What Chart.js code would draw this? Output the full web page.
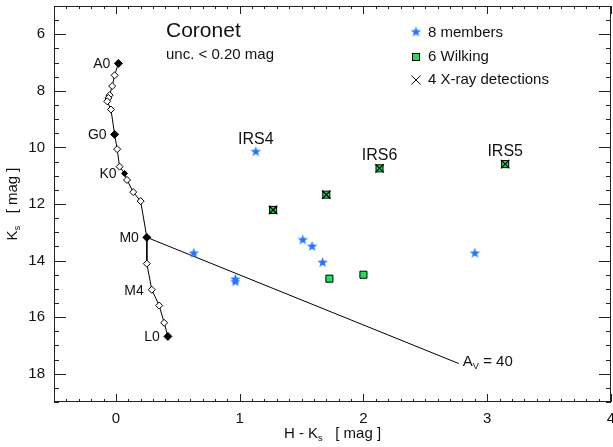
<!DOCTYPE html>
<html>
<head>
<meta charset="utf-8">
<script src="https://cdn.jsdelivr.net/npm/chart.js@4.4.0/dist/chart.umd.min.js"></script>
<style>
  html, body { margin: 0; padding: 0; background: #fff; overflow: hidden; }
  #wrap { width: 613px; height: 447px; }
</style>
</head>
<body>
<div id="wrap"><canvas id="cmd"></canvas></div>
<script>
// ---- datos ----
// secuencia principal (H-Ks, Ks) con tipos espectrales
const trackX = [0.02, -0.01, -0.03, -0.05, -0.06, -0.07, -0.04, -0.01, 0.01, 0.03, 0.07, 0.09, 0.14, 0.20, 0.25, 0.25, 0.29, 0.35, 0.39, 0.42]
const trackY = [7.03, 7.45, 7.83, 8.15, 8.25, 8.37, 8.66, 9.54, 10.06, 10.68, 10.92, 11.15, 11.58, 11.90, 13.18, 14.11, 15.03, 15.59, 16.20, 16.68]
const trackSpT = ['A0', '', '', '', '', '', '', 'G0', '', '', 'K0', '', '', '', 'M0', '', 'M4', '', '', 'L0']
const filledSpT = ['A0', 'G0', 'K0', 'M0', 'L0']

// vector de enrojecimiento A_V = 40
const avX = [0.25, 2.77]
const avY = [13.18, 17.64]

// 8 miembros
const memberX = [1.13, 0.63, 0.965, 0.965, 1.51, 1.585, 1.67, 2.90]
const memberY = [10.15, 13.74, 14.66, 14.75, 13.27, 13.50, 14.07, 13.74]

// 6 Wilking
const wilkX = [1.27, 1.70, 2.13, 3.145, 1.725, 2.00]
const wilkY = [12.21, 11.67, 10.74, 10.59, 14.64, 14.50]

// 4 detecciones en rayos X
const xrayX = [1.27, 1.70, 2.13, 3.145]
const xrayY = [12.21, 11.67, 10.74, 10.59]

// nombres de fuentes
const srcNames = ['IRS4', 'IRS6', 'IRS5']
const srcX = [1.13, 2.13, 3.145]
const srcY = [10.15, 10.74, 10.59]

// ticks
const xTicks = [0, 1, 2, 3, 4]
const yTicks = [6, 8, 10, 12, 14, 16, 18]

const FONT = "'Liberation Sans', Arial, Helvetica, sans-serif"
const BLUE = '#2476ff'
const GREEN = '#1fe05c'
const INK = '#111'

// ---- estrella rellena de 5 puntas como imagen ----
function hacerEstrella(r, color){
  const c = document.createElement('canvas')
  const s = Math.ceil(r * 2) + 2
  c.width = s
  c.height = s
  const g = c.getContext('2d')
  g.fillStyle = color
  g.beginPath()
  for (let i = 0; i < 10; i++){
    const rr = i % 2 === 0 ? r : r * 0.42
    const a = -Math.PI / 2 + i * Math.PI / 5
    g.lineTo(s / 2 + rr * Math.cos(a), s / 2 + rr * Math.sin(a))
  }
  g.closePath()
  g.fill()
  return c
}
const estrella = hacerEstrella(5.5, BLUE)

function pares(xs, ys){
  return xs.map((x, i) => ({x: x, y: ys[i]}))
}

// ---- texto con subindice ----
function textoSub(ctx, partes, x, y, size){
  // partes: [[texto, esSub], ...] ; x = inicio, y = linea base
  let cx = x
  partes.forEach(([t, sub]) => {
    ctx.font = (sub ? size * 0.62 : size) + 'px ' + FONT
    ctx.fillText(t, cx, sub ? y + size * 0.22 : y)
    cx += ctx.measureText(t).width
  })
  return cx - x
}
function anchoSub(ctx, partes, size){
  let w = 0
  partes.forEach(([t, sub]) => {
    ctx.font = (sub ? size * 0.62 : size) + 'px ' + FONT
    w += ctx.measureText(t).width
  })
  return w
}

// ---- plugin: marco, ticks hacia adentro, textos ----
const decoraciones = {
  id: 'decoraciones',
  afterDraw(chart){
    const ctx = chart.ctx
    const a = chart.chartArea
    const sx = chart.scales.x
    const sy = chart.scales.y
    ctx.save()
    ctx.strokeStyle = '#222'
    ctx.lineWidth = 1
    ctx.strokeRect(Math.round(a.left) + 0.5, Math.round(a.top) + 0.5, Math.round(a.right - a.left) - 1, Math.round(a.bottom - a.top) - 1)

    ctx.beginPath()
    // ticks eje x (abajo y arriba)
    for (let i = 0; i <= 45; i++){
      const v = sx.min + i * 0.1
      const mayor = Math.abs(v - Math.round(v)) < 1e-6
      const len = mayor ? 8 : 3
      const px = Math.round(sx.getPixelForValue(v)) + 0.5
      ctx.moveTo(px, a.bottom)
      ctx.lineTo(px, a.bottom - len)
      ctx.moveTo(px, a.top)
      ctx.lineTo(px, a.top + len)
    }
    // ticks eje y (izquierda y derecha)
    for (let i = 0; i <= 28; i++){
      const v = sy.min + i * 0.5
      const mayor = Math.abs(v / 2 - Math.round(v / 2)) < 1e-6
      const len = mayor ? 12 : 5
      const py = Math.round(sy.getPixelForValue(v)) + 0.5
      ctx.moveTo(a.left, py)
      ctx.lineTo(a.left + len, py)
      ctx.moveTo(a.right, py)
      ctx.lineTo(a.right - len, py)
    }
    ctx.stroke()

    ctx.fillStyle = INK
    // tipos espectrales
    ctx.font = '14px ' + FONT
    ctx.textAlign = 'right'
    ctx.textBaseline = 'middle'
    trackSpT.forEach((t, i) => {
      if (!t) return
      ctx.fillText(t, sx.getPixelForValue(trackX[i]) - 8, sy.getPixelForValue(trackY[i]) + 1)
    })

    // nombres IRS
    ctx.font = '16px ' + FONT
    ctx.textAlign = 'center'
    ctx.textBaseline = 'alphabetic'
    srcNames.forEach((n, i) => {
      ctx.fillText(n, sx.getPixelForValue(srcX[i]), sy.getPixelForValue(srcY[i]) - 8)
    })

    // etiqueta A_V = 40
    ctx.textAlign = 'left'
    const ex = sx.getPixelForValue(avX[1])
    const ey = sy.getPixelForValue(avY[1])
    textoSub(ctx, [['A', false], ['V', true], [' = 40', false]], ex + 4, ey + 2, 15)

    // titulo
    ctx.font = '21px ' + FONT
    ctx.fillText('Coronet', 166, 37)
    ctx.font = '15px ' + FONT
    ctx.fillText('unc. < 0.20 mag', 166, 59)

    // leyenda
    ctx.font = '15px ' + FONT
    ctx.textBaseline = 'middle'
    ctx.drawImage(estrella, 416 - estrella.width / 2, 32 - estrella.height / 2)
    ctx.fillText('8 members', 428, 33)
    ctx.fillStyle = GREEN
    ctx.fillRect(412.5, 53.5, 7, 7)
    ctx.strokeStyle = '#000'
    ctx.strokeRect(412.5, 53.5, 7, 7)
    ctx.fillStyle = INK
    ctx.fillText('6 Wilking', 428, 57)
    ctx.beginPath()
    ctx.moveTo(411.5, 75.5); ctx.lineTo(420.5, 84.5)
    ctx.moveTo(420.5, 75.5); ctx.lineTo(411.5, 84.5)
    ctx.stroke()
    ctx.fillText('4 X-ray detections', 428, 80)

    // titulos de ejes
    ctx.textBaseline = 'alphabetic'
    const tx = [['H - K', false], ['s', true], ['   [ mag ]', false]]
    const wx = anchoSub(ctx, tx, 15)
    textoSub(ctx, tx, (a.left + a.right) / 2 - wx / 2, 438, 15)

    const ty = [['K', false], ['s', true], ['   [ mag ]', false]]
    const wy = anchoSub(ctx, ty, 15)
    ctx.translate(17, (a.top + a.bottom) / 2)
    ctx.rotate(-Math.PI / 2)
    textoSub(ctx, ty, -wy / 2, 0, 15)
    ctx.restore()
  }
}

// ---- datasets ----
const colorTrack = trackSpT.map(t => filledSpT.includes(t) ? '#000' : '#fff')
const radioTrack = trackSpT.map(t => t === 'K0' ? 3 : (filledSpT.includes(t) ? 4 : 3.5))

const datos = {
  datasets: [
    {
      label: '4 X-ray detections',
      data: pares(xrayX, xrayY),
      pointStyle: 'crossRot',
      pointRadius: 6,
      borderColor: '#000',
      borderWidth: 1.3,
      showLine: false,
      order: 0
    },
    {
      label: '6 Wilking',
      data: pares(wilkX, wilkY),
      pointStyle: 'rect',
      pointRadius: 5,
      backgroundColor: GREEN,
      borderColor: '#000',
      borderWidth: 1,
      showLine: false,
      order: 1
    },
    {
      label: '8 members',
      data: pares(memberX, memberY),
      pointStyle: estrella,
      showLine: false,
      order: 2
    },
    {
      label: 'track',
      data: pares(trackX, trackY),
      showLine: true,
      borderColor: '#000',
      borderWidth: 1,
      pointStyle: 'rectRot',
      pointRadius: radioTrack,
      pointBackgroundColor: colorTrack,
      pointBorderColor: '#000',
      pointBorderWidth: 1,
      order: 3
    },
    {
      label: 'Av',
      data: pares(avX, avY),
      showLine: true,
      borderColor: '#000',
      borderWidth: 1,
      pointRadius: 0,
      order: 4
    }
  ]
}

const config = {
  type: 'scatter',
  data: datos,
  options: {
    responsive: false,
    animation: false,
    devicePixelRatio: 1,
    layout: { padding: { top: 6, right: 2, left: 0, bottom: 0 }, autoPadding: false },
    plugins: { legend: { display: false }, tooltip: { enabled: false } },
    scales: {
      x: {
        type: 'linear',
        min: -0.5,
        max: 4,
        grid: { display: false, drawTicks: false },
        border: { display: false },
        afterBuildTicks: s => { s.ticks = xTicks.map(v => ({ value: v })) },
        afterFit: s => { s.height = 45; s.paddingLeft = 0; s.paddingRight = 0 },
        ticks: { font: { family: FONT, size: 15 }, color: INK, padding: 8, maxRotation: 0, autoSkip: false }
      },
      y: {
        type: 'linear',
        reverse: true,
        min: 5,
        max: 19,
        grid: { display: false, drawTicks: false },
        border: { display: false },
        afterBuildTicks: s => { s.ticks = yTicks.map(v => ({ value: v })) },
        afterFit: s => { s.width = 54; s.paddingTop = 0; s.paddingBottom = 0 },
        ticks: { font: { family: FONT, size: 15 }, color: INK, padding: 9, autoSkip: false }
      }
    }
  },
  plugins: [decoraciones]
}

const lienzo = document.querySelector('#cmd')
lienzo.width = 613
lienzo.height = 447
new Chart(lienzo, config)
</script>
</body>
</html>
